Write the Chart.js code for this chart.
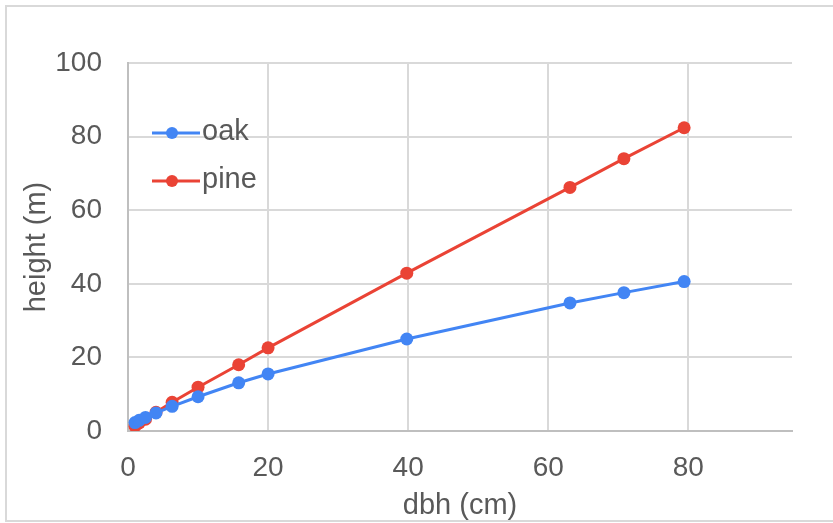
<!DOCTYPE html>
<html>
<head>
<meta charset="utf-8">
<script src="https://cdn.jsdelivr.net/npm/chart.js@4"></script>
<style>
  html, body { margin: 0; padding: 0; background: #fff; }
  #wrap { position: relative; width: 833px; height: 523px; overflow: hidden; }
  #frame { position: absolute; left: 5px; top: 5px; width: 900px; height: 517px;
           border: 2px solid #d9d9d9; box-sizing: border-box; }
  canvas { position: absolute; left: 0; top: 0; }
</style>
</head>
<body>
<div id="wrap">
  <div id="frame"></div>
  <canvas id="c" width="833" height="523"></canvas>
</div>
<script>
// 흉고직경(dbh) vs 수고 — 그림에서 읽은 값
const dbh = [1.0, 1.6, 2.5, 4.0, 6.3, 10.0, 15.8, 20.0, 39.8, 63.1, 70.8, 79.4];
const oakHeight = [2.3, 2.9, 3.7, 4.9, 6.7, 9.3, 13.1, 15.5, 25.0, 34.8, 37.6, 40.6];
const pineHeight = [1.3, 2.2, 3.2, 5.1, 7.8, 11.9, 18.0, 22.6, 42.9, 66.2, 74.0, 82.4];
const seriesNames = ['oak', 'pine'];
const xTicks = [0, 20, 40, 60, 80];
const yTicks = [0, 20, 40, 60, 80, 100];

const BLUE = '#4285f4';
const RED = '#ea4335';
const TEXT = '#595959';
const FONT = '"Liberation Sans", Arial, sans-serif';

const pts = ys => dbh.map((x, i) => ({ x, y: ys[i] }));

// 범례: 플롯 안쪽 좌상단 (선 + 점 + 이름)
const insideLegend = {
  id: 'insideLegend',
  afterDraw(chart) {
    const ctx = chart.ctx;
    const left = chart.chartArea.left + 24;
    const rows = [chart.chartArea.top + 70, chart.chartArea.top + 118];
    chart.data.datasets.forEach((ds, i) => {
      const y = rows[i];
      ctx.save();
      ctx.strokeStyle = ds.borderColor;
      ctx.lineWidth = 3;
      ctx.beginPath();
      ctx.moveTo(left, y);
      ctx.lineTo(left + 48, y);
      ctx.stroke();
      ctx.fillStyle = ds.borderColor;
      ctx.beginPath();
      ctx.arc(left + 20, y, 6, 0, Math.PI * 2);
      ctx.fill();
      ctx.fillStyle = TEXT;
      ctx.font = '29px ' + FONT;
      ctx.textBaseline = 'middle';
      ctx.fillText(ds.label, left + 50, y - 1);
      ctx.restore();
    });
  }
};

new Chart(document.getElementById('c'), {
  type: 'line',
  data: {
    datasets: [
      { label: seriesNames[0], data: pts(oakHeight), borderColor: BLUE, backgroundColor: BLUE,
        borderWidth: 3, pointRadius: 6.5, pointBorderWidth: 0, tension: 0 },
      { label: seriesNames[1], data: pts(pineHeight), borderColor: RED, backgroundColor: RED,
        borderWidth: 3, pointRadius: 6.5, pointBorderWidth: 0, tension: 0 },
    ]
  },
  options: {
    responsive: false,
    animation: false,
    layout: { padding: { left: 0, top: 63, right: 41, bottom: 0 } },
    plugins: { legend: { display: false }, tooltip: { enabled: false } },
    scales: {
      x: {
        type: 'linear', min: 0, max: 94.8,
        afterBuildTicks: s => { s.ticks = xTicks.map(v => ({ value: v })); },
        afterFit: s => { s.height = 92; },
        grid: { color: '#d9d9d9', lineWidth: 2, drawTicks: false },
        border: { color: '#bfbfbf', width: 2 },
        ticks: { color: TEXT, font: { family: FONT, size: 28 }, padding: 20, maxRotation: 0 },
        title: { display: true, text: 'dbh (cm)', color: TEXT, font: { family: FONT, size: 29 }, padding: { top: 0, bottom: 0 } }
      },
      y: {
        min: 0, max: 100,
        afterBuildTicks: s => { s.ticks = yTicks.map(v => ({ value: v })); },
        afterFit: s => { s.width = 128; },
        grid: { color: '#d9d9d9', lineWidth: 2, drawTicks: false },
        border: { color: '#bfbfbf', width: 2 },
        ticks: { color: TEXT, font: { family: FONT, size: 28 }, padding: 26 },
        title: { display: true, text: 'height (m)', color: TEXT, font: { family: FONT, size: 29 }, padding: { top: 20, bottom: 0 } }
      }
    }
  },
  plugins: [insideLegend]
});
</script>
</body>
</html>
